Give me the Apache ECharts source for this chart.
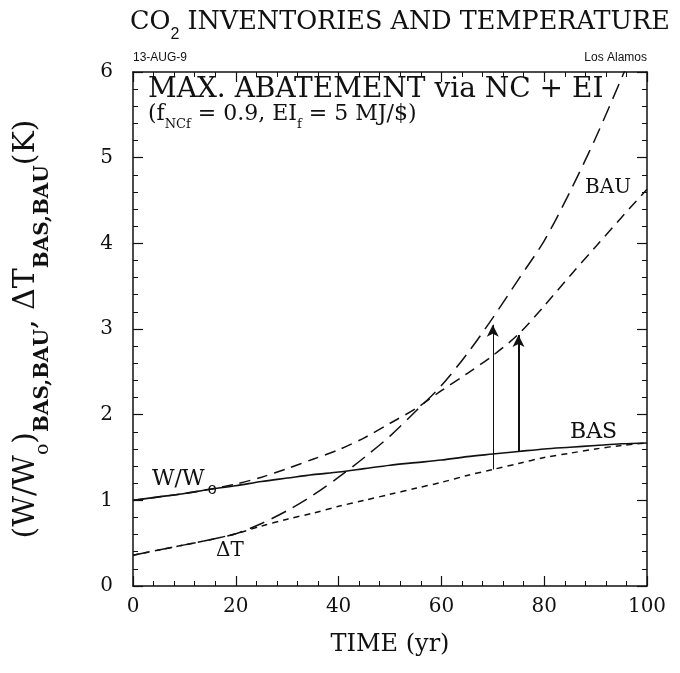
<!DOCTYPE html>
<html><head><meta charset="utf-8">
<script src="https://cdn.jsdelivr.net/npm/echarts@6/dist/echarts.min.js"></script>
<style>html,body{margin:0;padding:0;background:#fff}#c{width:680px;height:673px}</style>
</head><body><div id="c"></div>
<script>
// ---- data ----
const years = [0,5,10,15,20,25,30,35,40,45,50,55,60,65,70,75,80,85,90,95,100];
const wBAS  = [1.00,1.04,1.08,1.13,1.17,1.22,1.26,1.30,1.33,1.37,1.41,1.44,1.47,1.51,1.54,1.57,1.60,1.62,1.64,1.66,1.67];
const wBAU  = [1.00,1.04,1.08,1.13,1.19,1.27,1.37,1.48,1.59,1.73,1.90,2.07,2.28,2.48,2.69,2.94,3.27,3.62,3.96,4.30,4.63];
const tBAS  = [0.36,0.42,0.48,0.54,0.61,0.70,0.78,0.85,0.93,1.00,1.07,1.14,1.21,1.29,1.36,1.43,1.50,1.55,1.60,1.64,1.67];
const tBAU  = [0.36,0.42,0.48,0.54,0.61,0.73,0.88,1.06,1.27,1.50,1.75,2.04,2.34,2.71,3.13,3.58,4.03,4.60,5.23,5.92,6.62];
const xTicks = [0,20,40,60,80,100];
const yTicks = [0,1,2,3,4,5,6];
const arrowYear = [70, 75];
const arrowFrom = [1.36, 1.57];
const arrowTo   = [3.05, 2.93];

const pair = (xs, ys) => xs.map((x, i) => [x, ys[i]]);
const SERIF = '"DejaVu Serif", serif';
const SANS = '"Liberation Sans", sans-serif';
const K = '#111';

const chart = echarts.init(document.getElementById('c'), null, {renderer: 'canvas'});

function xAx(pos, showLabel) {
  return {
    type: 'value', position: pos, min: xTicks[0], max: xTicks[xTicks.length-1],
    interval: xTicks[1]-xTicks[0],
    axisLine: {show: true, onZero: false, lineStyle: {color: K, width: 1.5}},
    axisTick: {show: true, inside: true, length: 10, lineStyle: {color: K, width: 1.2}},
    minorTick: {show: true, splitNumber: 5, length: 5, lineStyle: {color: K, width: 1}},
    splitLine: {show: false}, minorSplitLine: {show: false},
    axisLabel: {show: showLabel, color: K, fontFamily: SERIF, fontSize: 20, margin: 11},
    name: showLabel ? 'TIME (yr)' : '', nameLocation: 'middle', nameGap: 47,
    nameTextStyle: {color: K, fontFamily: SERIF, fontSize: 24}
  };
}
function yAx(pos, showLabel) {
  return {
    type: 'value', position: pos, min: yTicks[0], max: yTicks[yTicks.length-1],
    interval: yTicks[1]-yTicks[0],
    axisLine: {show: true, onZero: false, lineStyle: {color: K, width: 1.5}},
    axisTick: {show: true, inside: true, length: 10, lineStyle: {color: K, width: 1.2}},
    minorTick: {show: true, splitNumber: 5, length: 5, lineStyle: {color: K, width: 1}},
    splitLine: {show: false}, minorSplitLine: {show: false},
    axisLabel: {show: showLabel, color: K, fontFamily: SERIF, fontSize: 20, margin: 20},
    name: showLabel ? '{m|(W/W}{s|o}{m|)}{b|BAS,BAU}{m|, ΔT}{b|BAS,BAU}{m|(K)}' : '',
    nameLocation: 'middle', nameRotate: 90, nameGap: 80,
    nameTextStyle: {color: K, fontFamily: SERIF, fontSize: 30,
      rich: {
        m: {fontFamily: SERIF, fontSize: 30, color: K, verticalAlign: 'top', lineHeight: 42},
        s: {fontFamily: SERIF, fontSize: 19, color: K, verticalAlign: 'bottom', lineHeight: 42},
        b: {fontFamily: SERIF, fontSize: 20, fontWeight: 'bold', color: K, verticalAlign: 'bottom', lineHeight: 42}
      }}
  };
}

const option = {
  backgroundColor: '#fff',
  animation: false,
  grid: {left: 133, right: 33, top: 72, bottom: 87, containLabel: false},
  xAxis: [xAx('bottom', true), xAx('top', false)],
  yAxis: [yAx('left', true), yAx('right', false)],
  series: [
    {type: 'line', name: 'W BAS', data: pair(years, wBAS), showSymbol: false, smooth: 0.3,
     lineStyle: {color: K, width: 1.6, type: 'solid'}, z: 5,
     markLine: {
       silent: true, symbol: ['none', 'arrow'], symbolSize: [9, 12], label: {show: false},
       data: arrowYear.map((yr, i) => [
         {coord: [yr, arrowFrom[i]], lineStyle: {color: K, width: i === 0 ? 1 : 2, type: 'solid'}},
         {coord: [yr, arrowTo[i]]}
       ])
     }},
    {type: 'line', name: 'W BAU', data: pair(years, wBAU), showSymbol: false, smooth: 0.3,
     lineStyle: {color: K, width: 1.5, type: [11, 7]}},
    {type: 'line', name: 'T BAS', data: pair(years, tBAS), showSymbol: false, smooth: 0.3,
     lineStyle: {color: K, width: 1.5, type: [6, 5]}},
    {type: 'line', name: 'T BAU', data: pair(years, tBAU), showSymbol: false, smooth: 0.3,
     lineStyle: {color: K, width: 1.5, type: [16, 8]}}
  ],
  graphic: [
    {type: 'text', x: 130, y: 9, style: {
      text: '{a|CO}{s|2}{a| INVENTORIES AND TEMPERATURE}',
      rich: {a: {font: '25.5px ' + SERIF, fill: K, verticalAlign: 'top', lineHeight: 34},
             s: {font: '16px ' + SANS, fill: K, verticalAlign: 'bottom', lineHeight: 34}}}},
    {type: 'text', x: 133, y: 52, style: {text: '13-AUG-9', font: '12px ' + SANS, fill: K}},
    {type: 'text', x: 647, y: 52, style: {text: 'Los Alamos', font: '12px ' + SANS, fill: K, textAlign: 'right'}},
    {type: 'text', x: 148, y: 76, style: {text: 'MAX. ABATEMENT via NC + EI', font: '28px ' + SERIF, fill: K}},
    {type: 'text', x: 148, y: 103, style: {
      text: '{a|(f}{s|NCf}{a| = 0.9, EI}{s|f}{a| = 5 MJ/$)}',
      rich: {a: {font: '22px ' + SERIF, fill: K, verticalAlign: 'top', lineHeight: 28},
             s: {font: '13px ' + SERIF, fill: K, verticalAlign: 'bottom', lineHeight: 28}}}},
    {type: 'text', x: 585, y: 178, style: {text: 'BAU', font: '20px ' + SERIF, fill: K}},
    {type: 'text', x: 570, y: 421, style: {text: 'BAS', font: '22px ' + SERIF, fill: K}},
    {type: 'text', x: 152, y: 468, style: {
      text: '{a|W/W}{s|o}',
      rich: {a: {font: '22px ' + SERIF, fill: K, verticalAlign: 'top', lineHeight: 30},
             s: {font: '16px ' + SANS, fill: K, verticalAlign: 'bottom', lineHeight: 30, padding: [0, 0, 0, 3]}}}},
    {type: 'text', x: 216, y: 541, style: {text: 'ΔT', font: '20px ' + SERIF, fill: K}}
  ]
};
chart.setOption(option);
</script>
</body></html>
